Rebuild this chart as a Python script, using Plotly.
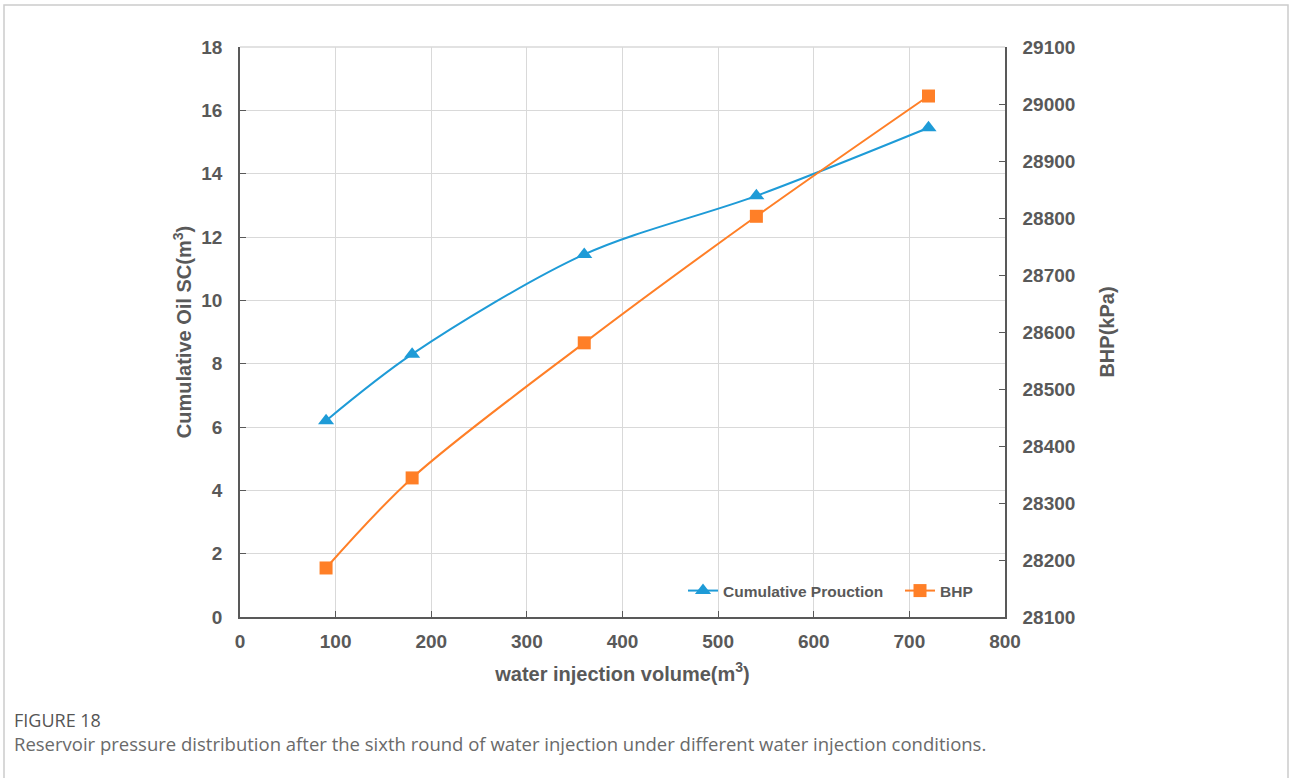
import plotly.graph_objects as go

water_injection = [90, 180, 360, 540, 720]
cumulative_production = [6.2, 8.3, 11.45, 13.3, 15.45]
bhp = [28186, 28344, 28581, 28803, 29014]

BLUE = "#1E9BD7"
ORANGE = "#FF7F27"
GREY = "#595959"
FONT = "Liberation Sans, Arial, sans-serif"

fig = go.Figure()
fig.add_trace(go.Scatter(
    x=water_injection, y=cumulative_production, name="<b>Cumulative Prouction</b>",
    mode="lines+markers", line=dict(color=BLUE, width=2, shape="spline", smoothing=0.9),
    marker=dict(symbol="triangle-up", size=14, color=BLUE), yaxis="y"))
fig.add_trace(go.Scatter(
    x=water_injection, y=bhp, name="<b>BHP</b>",
    mode="lines+markers", line=dict(color=ORANGE, width=2, shape="spline", smoothing=0.9),
    marker=dict(symbol="square", size=13, color=ORANGE), yaxis="y2"))

L, R, T, B = 240, 285, 47, 161
W, H = 1290, 778
pw, ph = W - L - R, H - T - B

def px(x):
    return (x - L) / pw

def py(y):
    return 1 - (y - T) / ph

tickfont = dict(family=FONT, size=19, color=GREY)
titlefont = dict(family=FONT, size=20, color=GREY)

fig.update_layout(
    width=W, height=H,
    margin=dict(l=L, r=R, t=T, b=B),
    paper_bgcolor="white", plot_bgcolor="white",
    showlegend=True,
    legend=dict(orientation="h", x=px(683), y=py(591), xanchor="left", yanchor="middle",
                bgcolor="rgba(0,0,0,0)", font=dict(family=FONT, size=15.5, color=GREY),
                entrywidth=172, entrywidthmode="pixels", itemwidth=30, tracegroupgap=0),
    xaxis=dict(range=[0, 800], dtick=100, tick0=0, showgrid=True, gridcolor="#D9D9D9",
               gridwidth=1, showline=True, linecolor=GREY, linewidth=1.5,
               ticks="inside", ticklen=6, tickcolor=GREY, tickfont=tickfont,
               ticklabelstandoff=6, tickprefix="<b>", ticksuffix="</b>",
               zeroline=False,
               title=dict(text="<b>water injection volume(m<sup>3</sup>)</b>", font=titlefont, standoff=16)),
    yaxis=dict(range=[0, 18], dtick=2, tick0=0, showgrid=True, gridcolor="#D9D9D9",
               gridwidth=1, showline=True, linecolor=GREY, linewidth=1.5,
               ticks="inside", ticklen=6, tickcolor=GREY, tickfont=tickfont,
               ticklabelstandoff=12, tickprefix="<b>", ticksuffix="</b>",
               zeroline=False,
               title=dict(text="<b>Cumulative Oil SC(m<sup>3</sup>)</b>", font=titlefont, standoff=4)),
    yaxis2=dict(range=[28100, 29100], dtick=100, tick0=28100, overlaying="y", side="right",
                showgrid=False, showline=True, linecolor=GREY, linewidth=1.5,
                ticks="inside", ticklen=6, tickcolor=GREY, tickfont=tickfont,
                ticklabelstandoff=12, tickformat="d", tickprefix="<b>", ticksuffix="</b>",
                zeroline=False,
                title=dict(text="<b>BHP(kPa)</b>", font=titlefont, standoff=26)),
)

# top plot border (light grey)
fig.add_shape(type="line", xref="paper", yref="paper", x0=0, x1=1, y0=1, y1=1,
              line=dict(color="#D9D9D9", width=1.5))
# outer frame
fig.add_shape(type="rect", xref="paper", yref="paper",
              x0=px(4), x1=px(1288), y0=py(790), y1=py(5),
              line=dict(color="#CCCCCC", width=1.5), fillcolor="rgba(0,0,0,0)", layer="below")

fig.add_annotation(text="FIGURE 18", xref="paper", yref="paper", x=px(12), y=py(720),
                   xanchor="left", yanchor="middle", showarrow=False,
                   font=dict(family="Open Sans, sans-serif", size=18, color="#555555"))
fig.add_annotation(text="Reservoir pressure distribution after the sixth round of water injection under different water injection conditions.",
                   xref="paper", yref="paper", x=px(12), y=py(743),
                   xanchor="left", yanchor="middle", showarrow=False,
                   font=dict(family="Open Sans, sans-serif", size=18.5, color="#6A6A6A"))

fig.write_html("out.html")
